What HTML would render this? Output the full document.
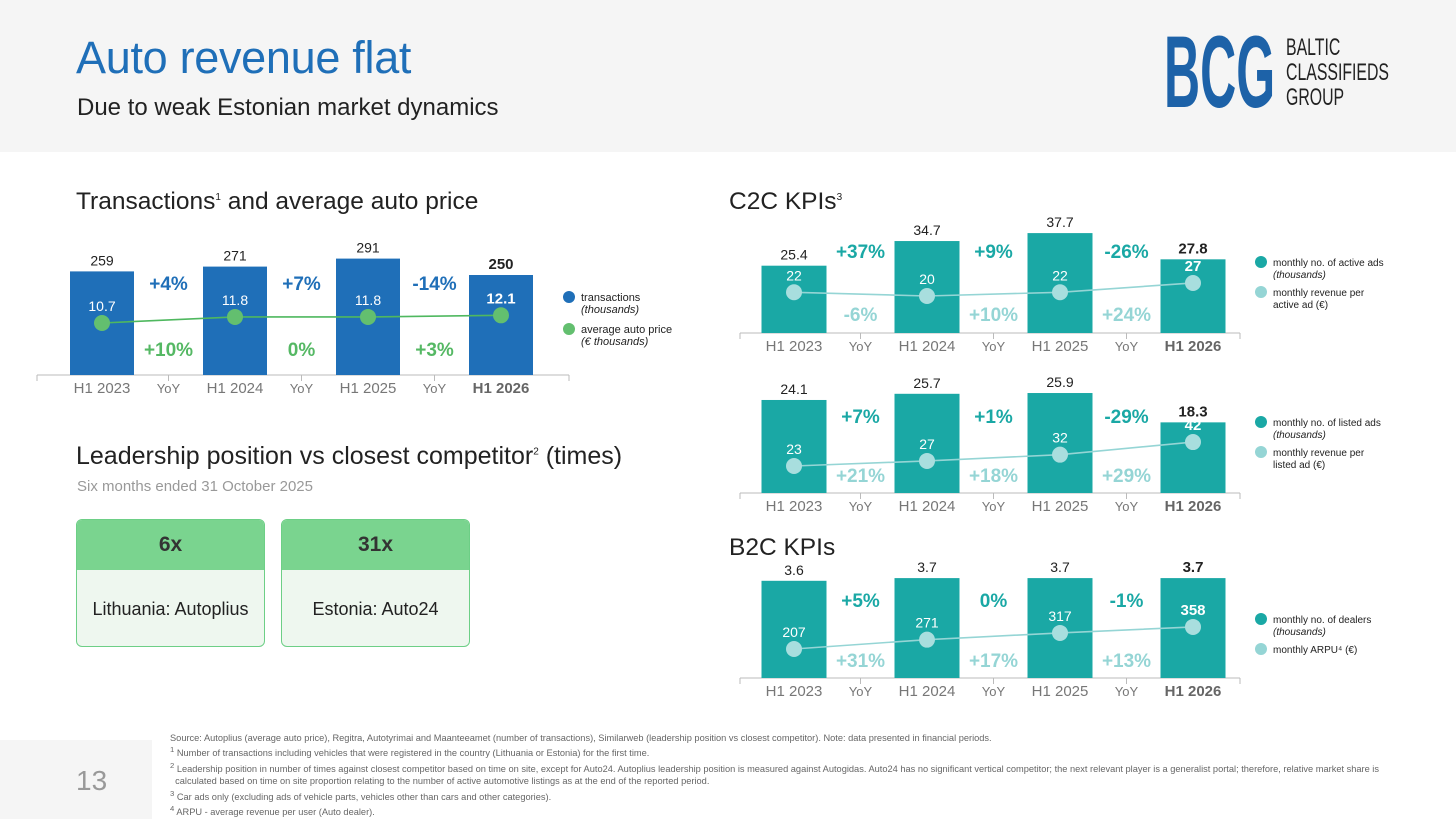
<!DOCTYPE html>
<html><head><meta charset="utf-8">
<style>
*{margin:0;padding:0;box-sizing:border-box}
body{width:1456px;height:819px;background:#fff;font-family:"Liberation Sans",sans-serif;position:relative;overflow:hidden}
.abs{position:absolute}
#header{left:0;top:0;width:1456px;height:152px;background:#f5f5f5}
#title{left:76px;top:32px;font-size:45px;color:#1f6fb8;font-weight:normal;letter-spacing:-0.3px}
#subtitle{left:77px;top:94px;font-size:24px;color:#222}
.sec{font-size:24.5px;color:#222}
.box{width:189px;height:128px;border:1px solid #6dcf86;border-radius:6px;overflow:hidden;background:#eef7ef}
.box .hd{height:50px;background:#7ad48f;font-size:21px;font-weight:bold;color:#333;text-align:center;line-height:50px}
.box .bd{font-size:18px;color:#222;text-align:center;line-height:78px}
#pagebox{left:0;top:740px;width:152px;height:79px;background:#f5f5f5}
#pagenum{left:76px;top:765px;font-size:28px;color:#999}
#notes{left:170px;top:732px;font-size:9.25px;color:#666;line-height:12.4px;width:1250px}
#notes div{white-space:nowrap}
svg text{font-family:"Liberation Sans",sans-serif}
</style></head>
<body>
<div id="header" class="abs"></div>
<div id="title" class="abs">Auto revenue flat</div>
<div id="subtitle" class="abs">Due to weak Estonian market dynamics</div>
<div class="abs" style="left:1164px;top:38px;width:230px;height:76px">
  <div class="abs" style="left:0;top:-17px;font-size:102px;font-weight:bold;color:#1d62a8;transform:scaleX(0.49);transform-origin:left top;line-height:102px;white-space:nowrap">BCG</div>
  <div class="abs" style="left:122px;top:-3px;font-size:24px;line-height:25px;color:#222;white-space:nowrap;transform:scaleX(0.66);transform-origin:left top">BALTIC<br>CLASSIFIEDS<br>GROUP</div>
</div>

<div class="abs sec" style="left:76px;top:188px">Transactions<sup style="font-size:10px">1</sup> and average auto price</div>
<div class="abs sec" style="left:729px;top:188px">C2C KPIs<sup style="font-size:10px">3</sup></div>
<div class="abs sec" style="left:729px;top:534px">B2C KPIs</div>
<div class="abs sec" style="left:76px;top:442px;font-size:25px">Leadership position vs closest competitor<sup style="font-size:10px">2</sup> (times)</div>
<div class="abs" style="left:77px;top:478px;font-size:15px;color:#999">Six months ended 31 October 2025</div>

<div class="abs box" style="left:76px;top:519px"><div class="hd">6x</div><div class="bd">Lithuania: Autoplius</div></div>
<div class="abs box" style="left:281px;top:519px"><div class="hd">31x</div><div class="bd">Estonia: Auto24</div></div>

<svg id="charts" class="abs" style="left:0;top:0" width="1456" height="819"></svg>

<div id="pagebox" class="abs"></div>
<div id="pagenum" class="abs">13</div>
<div id="notes" class="abs">
<div>Source: Autoplius (average auto price), Regitra, Autotyrimai and Maanteeamet (number of transactions), Similarweb (leadership position vs closest competitor). Note: data presented in financial periods.</div>
<div><sup>1</sup> Number of transactions including vehicles that were registered in the country (Lithuania or Estonia) for the first time.</div>
<div><sup>2</sup> Leadership position in number of times against closest competitor based on time on site, except for Auto24. Autoplius leadership position is measured against Autogidas. Auto24 has no significant vertical competitor; the next relevant player is a generalist portal; therefore, relative market share is</div>
<div>&nbsp;&nbsp;calculated based on time on site proportion relating to the number of active automotive listings as at the end of the reported period.</div>
<div><sup>3</sup> Car ads only (excluding ads of vehicle parts, vehicles other than cars and other categories).</div>
<div><sup>4</sup> ARPU - average revenue per user (Auto dealer).</div>
</div>

<script>
const categories = ["H1 2023","H1 2024","H1 2025","H1 2026"];
const transactions = [259,271,291,250];
const autoPrice = [10.7,11.8,11.8,12.1];
const transYoY = ["+4%","+7%","-14%"];
const priceYoY = ["+10%","0%","+3%"];
const activeAds = [25.4,34.7,37.7,27.8];
const revPerActive = [22,20,22,27];
const activeYoY = ["+37%","+9%","-26%"];
const revActiveYoY = ["-6%","+10%","+24%"];
const listedAds = [24.1,25.7,25.9,18.3];
const revPerListed = [23,27,32,42];
const listedYoY = ["+7%","+1%","-29%"];
const revListedYoY = ["+21%","+18%","+29%"];
const dealers = [3.6,3.7,3.7,3.7];
const arpu = [207,271,317,358];
const dealersYoY = ["+5%","0%","-1%"];
const arpuYoY = ["+31%","+17%","+13%"];

const svg = document.getElementById('charts');
const NS = 'http://www.w3.org/2000/svg';
function mk(tag, attrs, parent){
  const e = document.createElementNS(NS, tag);
  for (const k in attrs) e.setAttribute(k, attrs[k]);
  (parent||svg).appendChild(e);
  return e;
}
function txt(s, x, y, size, fill, weight, name, anchor, style){
  const t = mk('text', {x:x, y:y, 'font-size':size, fill:fill, 'font-weight':weight||'normal', 'text-anchor':anchor||'middle'});
  if (style) t.setAttribute('font-style', style);
  t.textContent = s;
  
  
  return t;
}

function drawChart(c){
  const g = mk('g', {});
  
  
  const step = c.step, x0 = c.x0;
  const xc = i => x0 + i*step;
  const xy = i => x0 + (i+0.5)*step;
  const yBar = v => c.base - v*c.barScale;
  const yLine = v => c.lineY0 - (v - c.lineV0)*c.lineScale;
  const ax = mk('line', {x1:c.axL, x2:c.axR, y1:c.base, y2:c.base, stroke:'#bbb', 'stroke-width':1}, g);
  
  
  [c.axL, c.axR].concat([0,1,2].map(xy)).forEach(x=>{
    const tk = mk('line', {x1:x, x2:x, y1:c.base, y2:c.base+6, stroke:'#bbb'}, g);
    
    
  });
  c.bars.forEach((v,i)=>{
    const r = mk('rect', {x:xc(i)-c.bw/2, y:yBar(v), width:c.bw, height:v*c.barScale, fill:c.barColor}, g);
    
    
    g.appendChild(txt(c.fmtBar(v), xc(i), yBar(v)-6, i===3?15:14, '#222', i===3?'bold':'normal', 'bar-value-label'));
    g.appendChild(txt(categories[i], xc(i), c.base+18, 15, i===3?'#666':'#777', i===3?'bold':'normal', 'category-label'));
  });
  const pts = c.line.map((v,i)=>xc(i)+','+yLine(v)).join(' ');
  const pl = mk('polyline', {points:pts, fill:'none', stroke:c.lineColor, 'stroke-width':1.6}, g);
  
  
  c.line.forEach((v,i)=>{
    const d = mk('circle', {cx:xc(i), cy:yLine(v), r:8, fill:c.dotColor}, g);
    
    
    g.appendChild(txt(String(v), xc(i), yLine(v)-12, i===3?15:14, '#fff', i===3?'bold':'normal', 'point-value-label'));
  });
  for (let i=0;i<3;i++){
    g.appendChild(txt(c.yoyTop[i], xy(i), c.yoyTopY, 19, c.yoyTopColor, 'bold', 'yoy-bar-change'));
    g.appendChild(txt(c.yoyBot[i], xy(i), c.yoyBotY, 19, c.yoyBotColor, 'bold', 'yoy-line-change'));
    g.appendChild(txt('YoY', xy(i), c.base+18, 13, '#777', 'normal', 'yoy-label'));
  }
  c.legend.forEach((e,j)=>{
    const ly = c.legY + j*c.legGap;
    const cc = mk('circle', {cx:c.legX, cy:ly, r:6, fill:e.color}, g);
    
    
    e.lines.forEach((s,k)=>{
      g.appendChild(txt(s, c.legX+12, ly+4+k*12, c.legSize, '#222', 'normal', 'legend-entry', 'start', (k>0 && s.indexOf('(')===0)?'italic':null));
    });
  });
}

const teal='#1aa8a5', lteal='#95d5d5';
drawChart({name:'transactions-chart', x0:102, step:133, bw:64, base:375, barScale:0.4, bars:transactions, fmtBar:v=>String(v),
  line:autoPrice, lineY0:323, lineV0:10.7, lineScale:5.5, barColor:'#1f6fb8', lineColor:'#4fb85f', dotColor:'#63bf6f',
  yoyTop:transYoY, yoyBot:priceYoY, yoyTopY:290, yoyBotY:356, yoyTopColor:'#1f6fb8', yoyBotColor:'#55b864',
  axL:37, axR:569, legX:569, legY:297, legGap:32, legSize:11,
  legend:[{color:'#1f6fb8',lines:['transactions','(thousands)']},{color:'#63bf6f',lines:['average auto price','(€ thousands)']}]});
drawChart({name:'c2c-active-ads-chart', x0:794, step:133, bw:65, base:333, barScale:2.65, bars:activeAds, fmtBar:v=>v.toFixed(1),
  line:revPerActive, lineY0:296, lineV0:20, lineScale:1.86, barColor:teal, lineColor:lteal, dotColor:'#a8dede',
  yoyTop:activeYoY, yoyBot:revActiveYoY, yoyTopY:258, yoyBotY:321, yoyTopColor:teal, yoyBotColor:lteal,
  axL:740, axR:1240, legX:1261, legY:262, legGap:30, legSize:10,
  legend:[{color:teal,lines:['monthly no. of active ads','(thousands)']},{color:lteal,lines:['monthly revenue per','active ad (€)']}]});
drawChart({name:'c2c-listed-ads-chart', x0:794, step:133, bw:65, base:493, barScale:3.86, bars:listedAds, fmtBar:v=>v.toFixed(1),
  line:revPerListed, lineY0:466, lineV0:23, lineScale:1.26, barColor:teal, lineColor:lteal, dotColor:'#a8dede',
  yoyTop:listedYoY, yoyBot:revListedYoY, yoyTopY:423, yoyBotY:482, yoyTopColor:teal, yoyBotColor:lteal,
  axL:740, axR:1240, legX:1261, legY:422, legGap:30, legSize:10,
  legend:[{color:teal,lines:['monthly no. of listed ads','(thousands)']},{color:lteal,lines:['monthly revenue per','listed ad (€)']}]});
drawChart({name:'b2c-dealers-chart', x0:794, step:133, bw:65, base:678, barScale:27, bars:dealers, fmtBar:v=>v.toFixed(1),
  line:arpu, lineY0:649, lineV0:207, lineScale:0.146, barColor:teal, lineColor:lteal, dotColor:'#a8dede',
  yoyTop:dealersYoY, yoyBot:arpuYoY, yoyTopY:607, yoyBotY:667, yoyTopColor:teal, yoyBotColor:lteal,
  axL:740, axR:1240, legX:1261, legY:619, legGap:30, legSize:10,
  legend:[{color:teal,lines:['monthly no. of dealers','(thousands)']},{color:lteal,lines:['monthly ARPU⁴ (€)']}]});
</script>
</body></html>
